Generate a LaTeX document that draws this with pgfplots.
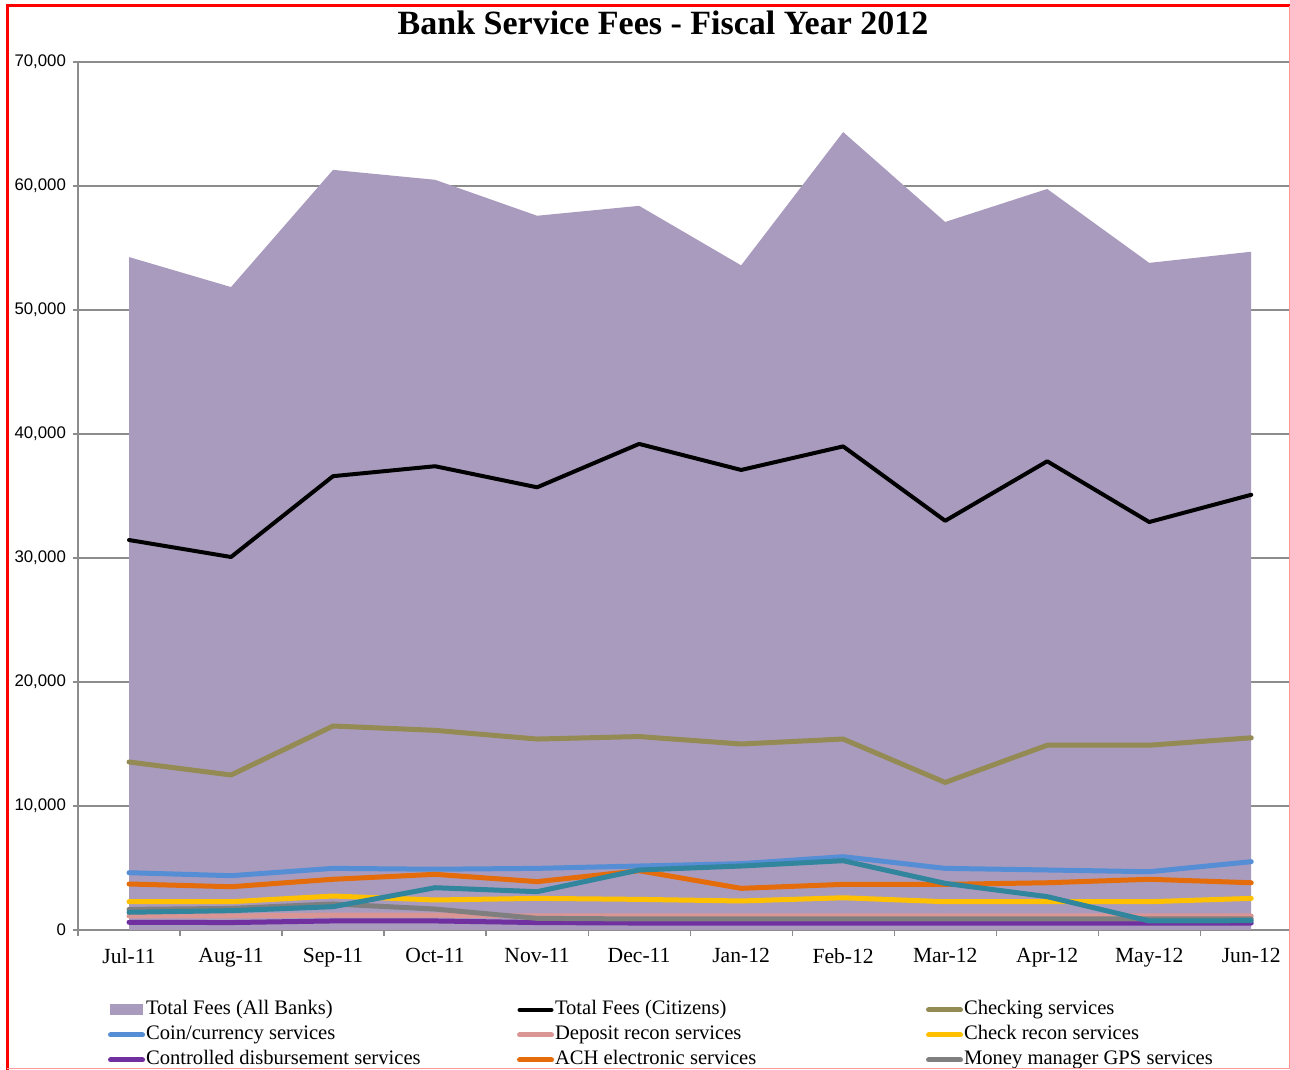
\documentclass[border=0pt]{standalone}
\usepackage{pgfplots}
\pgfplotsset{compat=1.18}
\usepackage{fontspec}
\setmainfont{Liberation Serif}
\setsansfont{Liberation Sans}
\definecolor{areac}{HTML}{A99BBE}
\definecolor{checkc}{HTML}{948A54}
\definecolor{coinc}{HTML}{558ED5}
\definecolor{depc}{HTML}{D99694}
\definecolor{chkrc}{HTML}{FFC000}
\definecolor{ctrlc}{HTML}{7030A0}
\definecolor{achc}{HTML}{E46C0A}
\definecolor{mmc}{HTML}{7F7F7F}
\definecolor{tealc}{HTML}{31859C}
\definecolor{gridc}{HTML}{8C8C8C}
\begin{document}
\begin{tikzpicture}[x=1pt,y=1pt]
\useasboundingbox (0,0) rectangle (645,535);
\begin{axis}[
  at={(39pt,70pt)}, anchor=south west,
  scale only axis, width=606pt, height=434pt,
  xmin=-0.5, xmax=11.38, ymin=0, ymax=70000,
  axis x line*=bottom, axis y line*=left,
  axis line style={draw=gridc, line width=0.6pt},
  ytick={0,10000,...,70000},
  scaled y ticks=false,
  yticklabel style={font=\sffamily\fontsize{8.4}{10}\selectfont, /pgf/number format/.cd, fixed, 1000 sep={,}, assume math mode=true},
  ymajorgrids, grid style={draw=gridc, line width=0.75pt},
  xtick={0,...,11},
  xticklabels={Jul-11,Aug-11,Sep-11,Oct-11,Nov-11,Dec-11,Jan-12,Feb-12,Mar-12,Apr-12,May-12,Jun-12},
  xticklabel style={font=\fontsize{10.8}{12}\selectfont, yshift=-3pt},
  minor xtick={-0.5,0.5,...,10.5},
  tick align=outside,
  major tick length=2.5pt, minor tick length=3pt,
  major x tick style={draw=none},
  minor x tick style={draw=gridc, line width=0.6pt},
  y tick style={draw=gridc, line width=0.6pt},
  clip=false,
  legend columns=3,
  legend cell align=left,
  legend style={at={(axis description cs:0.0195,-0.075)}, anchor=north west, draw=none, fill=none,
    font=\fontsize{10.3}{11}\selectfont, row sep=2pt,
    nodes={inner sep=0.5pt, text height=7.2pt, text depth=2.3pt}},
  legend image code/.code={\draw[#1, line cap=round] (1pt,0pt) -- (17pt,0pt);},
  every axis plot/.append style={line cap=round, line join=round},
]
\addplot[fill=areac, draw=none,
  legend image code/.code={\fill[areac] (0.5pt,-2.75pt) rectangle (17pt,2.75pt);}]
  coordinates {(0,54270) (1,51850) (2,61300) (3,60500) (4,57600) (5,58400) (6,53600) (7,64350) (8,57100) (9,59760) (10,53800) (11,54700)} \closedcycle;
\addlegendentry{\makebox[185pt][l]{Total Fees (All Banks)}}
\addplot[black, line width=2pt]
  coordinates {(0,31450) (1,30080) (2,36600) (3,37400) (4,35700) (5,39200) (6,37100) (7,39000) (8,33000) (9,37800) (10,32900) (11,35100)};
\addlegendentry{\makebox[185pt][l]{Total Fees (Citizens)}}
\addplot[checkc, line width=2.5pt]
  coordinates {(0,13550) (1,12500) (2,16450) (3,16100) (4,15400) (5,15600) (6,15000) (7,15400) (8,11900) (9,14900) (10,14900) (11,15500)};
\addlegendentry{\makebox[150pt][l]{Checking services}}
\addplot[coinc, line width=2.5pt]
  coordinates {(0,4620) (1,4380) (2,4970) (3,4900) (4,4970) (5,5160) (6,5350) (7,5910) (8,4970) (9,4840) (10,4700) (11,5510)};
\addlegendentry{\makebox[185pt][l]{Coin/currency services}}
\addplot[depc, line width=2.5pt]
  coordinates {(0,1130) (1,1130) (2,1200) (3,1200) (4,1130) (5,1130) (6,1130) (7,1130) (8,1130) (9,1130) (10,1130) (11,1130)};
\addlegendentry{\makebox[185pt][l]{Deposit recon services}}
\addplot[chkrc, line width=2.5pt]
  coordinates {(0,2280) (1,2280) (2,2740) (3,2420) (4,2550) (5,2470) (6,2340) (7,2600) (8,2280) (9,2280) (10,2280) (11,2550)};
\addlegendentry{\makebox[150pt][l]{Check recon services}}
\addplot[ctrlc, line width=2.5pt]
  coordinates {(0,620) (1,600) (2,730) (3,730) (4,600) (5,560) (6,560) (7,560) (8,560) (9,560) (10,560) (11,560)};
\addlegendentry{\makebox[185pt][l]{Controlled disbursement services}}
\addplot[achc, line width=2.5pt]
  coordinates {(0,3710) (1,3490) (2,4090) (3,4490) (4,3900) (5,4780) (6,3360) (7,3680) (8,3680) (9,3810) (10,4090) (11,3810)};
\addlegendentry{\makebox[185pt][l]{ACH electronic services}}
\addplot[mmc, line width=2.5pt]
  coordinates {(0,1660) (1,1740) (2,2100) (3,1690) (4,940) (5,890) (6,890) (7,890) (8,890) (9,890) (10,890) (11,890)};
\addlegendentry{\makebox[150pt][l]{Money manager GPS services}}
\addplot[tealc, line width=2.5pt, forget plot]
  coordinates {(0,1430) (1,1560) (2,1880) (3,3410) (4,3090) (5,4840) (6,5160) (7,5590) (8,3760) (9,2690) (10,730) (11,750)};
\end{axis}
\node[font=\bfseries\fontsize{17}{20}\selectfont] at (331.5pt,523.5pt) {Bank Service Fees - Fiscal Year 2012};
\draw[red, line width=1.5pt] (3.5pt,0pt) -- (3.5pt,532pt) -- (645pt,532pt);
\draw[red!40, line width=0.5pt] (644.5pt,532pt) -- (644.5pt,0.5pt) -- (3.5pt,0.5pt);
\end{tikzpicture}
\end{document}
